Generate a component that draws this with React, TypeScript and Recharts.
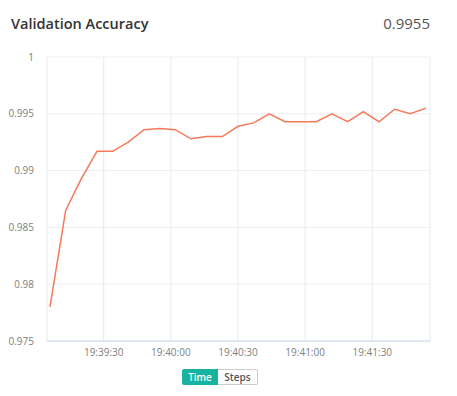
import { CartesianGrid, Line, LineChart, XAxis, YAxis } from "recharts";

// seconds of the day (19:39:06 ... 19:41:54)
const times = [
   70746, 70753, 70760, 70767, 70774, 70781, 70788, 70795, 70802, 70809, 70816, 70823, 70830,
   70837, 70844, 70851, 70858, 70865, 70872, 70879, 70886, 70893, 70900, 70907, 70914,
];
const accuracy = [
   0.978, 0.9865, 0.9893, 0.9917, 0.9917, 0.9925, 0.9936, 0.9937, 0.9936, 0.9928, 0.993, 0.993,
   0.9939, 0.9942, 0.995, 0.9943, 0.9943, 0.9943, 0.995, 0.9943, 0.9952, 0.9943, 0.9954, 0.995,
   0.9955,
];
const xTicks = [70770, 70800, 70830, 70860, 70890];
const yTicks = [0.975, 0.98, 0.985, 0.99, 0.995, 1];

const data = times.map((t, i) => ({ t, acc: accuracy[i] }));

const fmtTime = (s: number) => {
   const h = Math.floor(s / 3600);
   const m = Math.floor((s % 3600) / 60);
   const sec = s % 60;
   const p = (n: number) => String(n).padStart(2, "0");
   return `${p(h)}:${p(m)}:${p(sec)}`;
};

const font = "'Open Sans', sans-serif";

export default function App() {
   return (
      <div style={{ position: "absolute", left: 0, top: 0, width: 457, height: 396, background: "#fff", fontFamily: font }}>
         <div style={{ position: "absolute", left: 11, top: 14, fontSize: 14.5, fontWeight: 600, color: "#333" }}>
            Validation Accuracy
         </div>
         <div style={{ position: "absolute", right: 27, top: 13, fontSize: 15, color: "#555" }}>
            0.9955
         </div>
         <LineChart
            width={457}
            height={365}
            data={data}
            margin={{ top: 57, right: 27, left: 0, bottom: 4 }}
            style={{ position: "absolute", left: 0, top: 0 }}
         >
            <CartesianGrid horizontal={true} vertical={false} stroke="#efefef" />
            <CartesianGrid horizontal={false} vertical={true} stroke="#e6e9f1" />
            <XAxis
               dataKey="t"
               type="number"
               domain={["dataMin", "dataMax"]}
               padding={{ left: 3, right: 4 }}
               ticks={xTicks}
               tickFormatter={fmtTime}
               tickLine={false}
               stroke="#cbd7ee"
               tick={{ fontSize: 10, fill: "#808080", fontFamily: font }}
               height={20}
            />
            <YAxis
               type="number"
               domain={[0.975, 1]}
               ticks={yTicks}
               tickLine={false}
               axisLine={false}
               tickMargin={7}
               width={47}
               tick={{ fontSize: 10, fill: "#808080", fontFamily: font }}
            />
            <Line
               type="linear"
               dataKey="acc"
               stroke="#f47a5a"
               strokeWidth={1.5}
               dot={false}
               isAnimationActive={false}
            />
         </LineChart>
         <div style={{ position: "absolute", left: 182, top: 369, display: "flex", fontSize: 10 }}>
            <div style={{ width: 36, height: 16, lineHeight: "16px", textAlign: "center", background: "#16b3a1", color: "#fff", fontWeight: 600, borderRadius: "2px 0 0 2px" }}>
               Time
            </div>
            <div style={{ width: 39, height: 14, lineHeight: "14px", textAlign: "center", border: "1px solid #ccc", borderLeft: "none", color: "#555", fontWeight: 600, borderRadius: "0 2px 2px 0" }}>
               Steps
            </div>
         </div>
      </div>
   );
}
